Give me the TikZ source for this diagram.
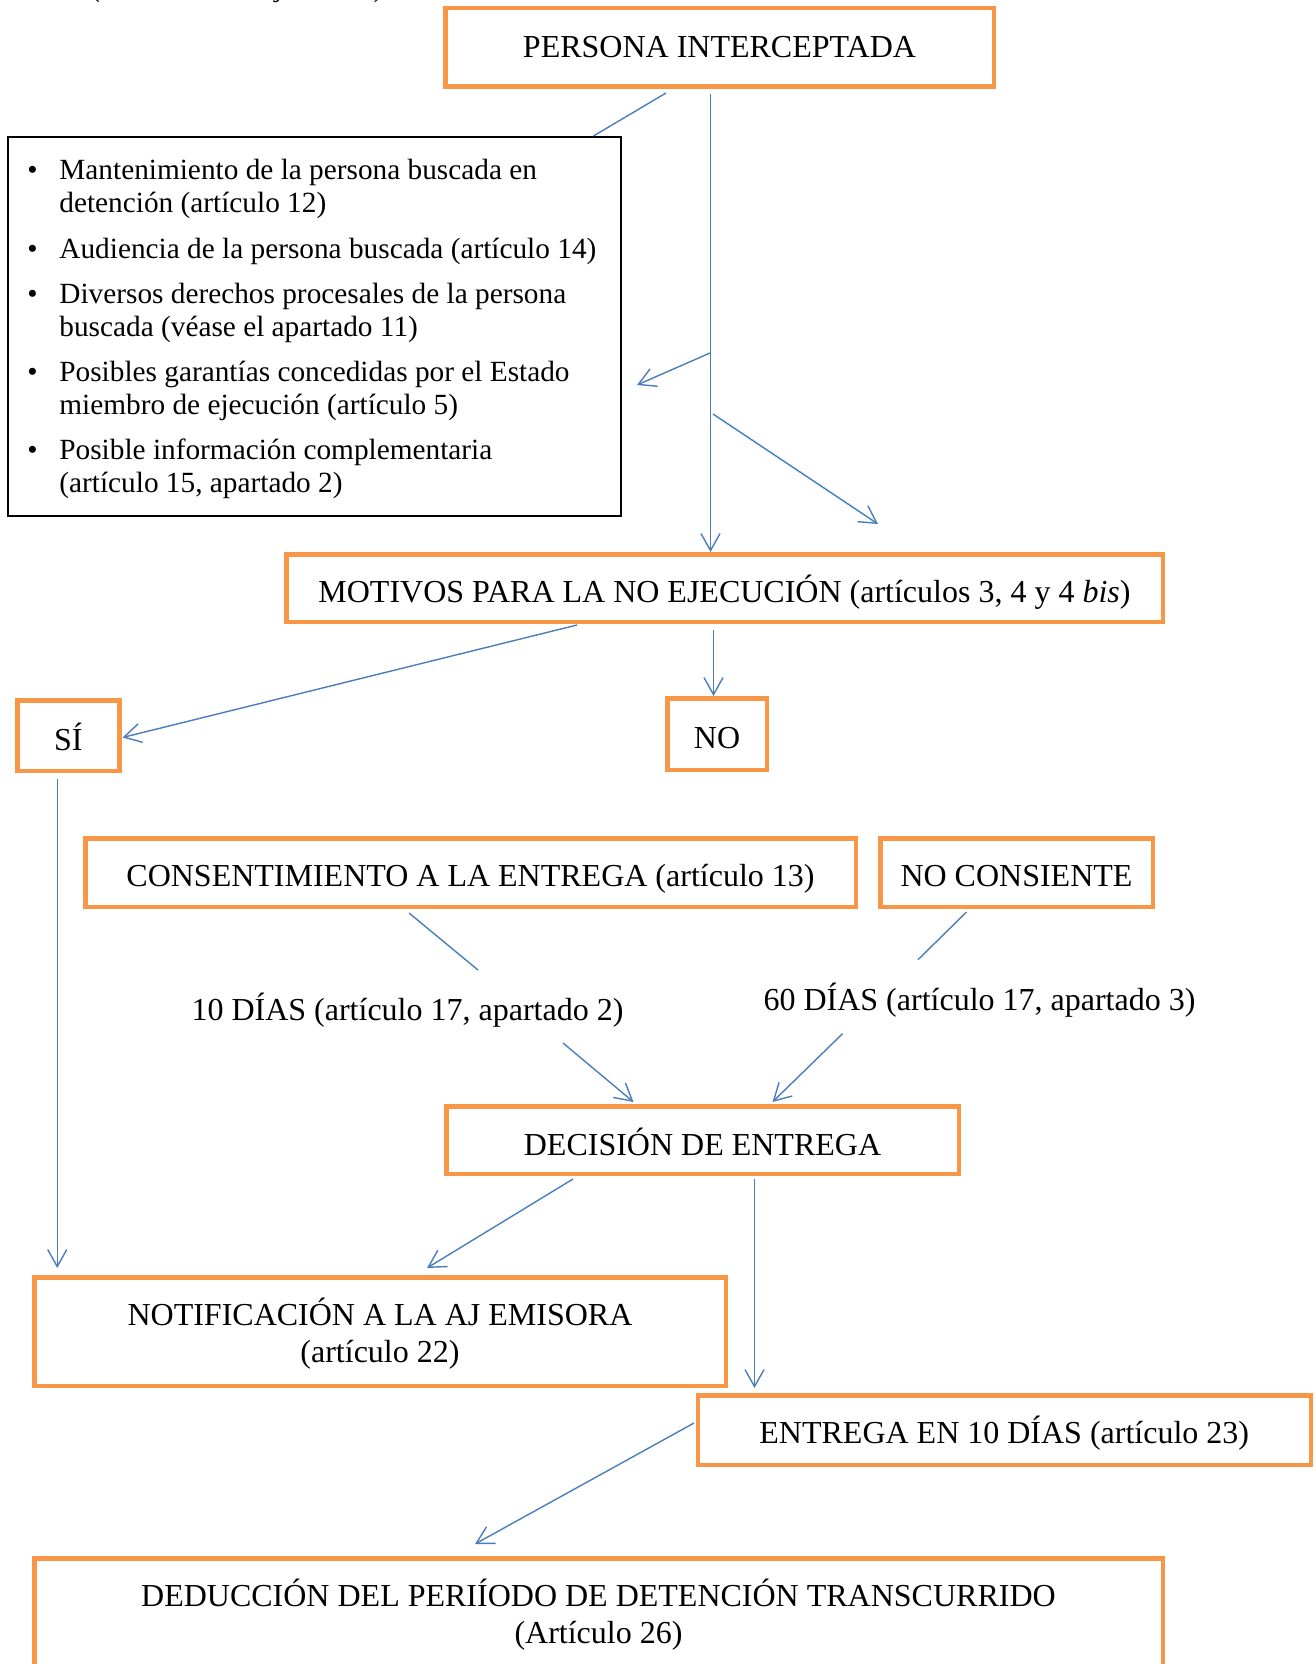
\documentclass[tikz,border=0pt]{standalone}
\usepackage{fontspec}
\setmainfont{Liberation Serif}
\usetikzlibrary{arrows.meta,calc}
\definecolor{boxorange}{HTML}{F79646}
\definecolor{lineblue}{HTML}{4A7EBB}
\newcommand\boxfont{\fontsize{16pt}{18.5pt}\selectfont}
\newcommand\listfont{\fontsize{14.65pt}{16.5pt}\selectfont}
\begin{document}
\begin{tikzpicture}[x=0.5pt,y=-0.5pt,
  obox/.style={draw=boxorange, line width=2.25pt, inner sep=0pt, font=\boxfont, text depth=0pt},
  tbox/.style={draw=boxorange, line width=2.25pt, inner sep=0pt, font=\boxfont, align=flush center, text height=0pt},
  lbox/.style={draw=black, line width=1pt, inner sep=0pt},
  item/.style={anchor=base west, inner sep=0pt, font=\listfont},
  plain/.style={anchor=base, inner sep=0pt, font=\boxfont},
  conn/.style={draw=lineblue, line width=0.7pt},
  arr/.style={conn, -{Straight Barb[length=8.5pt,width=9.5pt,line width=0.7pt]}}
]
\useasboundingbox (0,0) rectangle (1314,1664);

% cut-off text at the top
\node[item] (topfrag) at (90,-3) {(Autoridad de ejecución)};

% boxes
\node[obox, text height=9.8pt, minimum width=274.25pt, minimum height=39.25pt] (persona) at (719.5,47.5) {PERSONA INTERCEPTADA};
\node[lbox, minimum width=306.5pt, minimum height=189.5pt] (bul) at (314.5,326.5) {};
\node[obox, text height=14.7pt, minimum width=438.25pt, minimum height=33.75pt] (motivos) at (724.5,588) {MOTIVOS PARA LA NO EJECUCIÓN (artículos 3, 4 y 4 \textit{bis})};
\node[obox, text height=14.5pt, minimum width=51pt, minimum height=35.25pt] (si) at (68.25,735.5) {SÍ};
\node[obox, text height=14pt, minimum width=49.75pt, minimum height=35.75pt] (no) at (717,734) {NO};
\node[obox, text height=14.2pt, minimum width=385.25pt, minimum height=34.25pt] (consent) at (470.5,872.5) {CONSENTIMIENTO A LA ENTREGA (artículo 13)};
\node[obox, text height=14.2pt, minimum width=136.25pt, minimum height=34.25pt] (nocons) at (1016.5,872.5) {NO CONSIENTE};
\node[plain] (d10) at (407.5,1020) {10 DÍAS (artículo 17, apartado 2)};
\node[plain] (d60) at (979.5,1010.7) {60 DÍAS (artículo 17, apartado 3)};
\node[obox, text height=15pt, minimum width=256.25pt, minimum height=33.75pt] (decision) at (702.5,1140) {DECISIÓN DE ENTREGA};
\node[tbox, text width=330pt, text depth=5.8pt, minimum width=345.75pt, minimum height=54.25pt] (notif) at (380,1331.5) {NOTIFICACIÓN A LA AJ EMISORA\\(artículo 22)};
\node[obox, text height=13pt, minimum width=306.5pt, minimum height=34.75pt] (entrega) at (1004.25,1430) {ENTREGA EN 10 DÍAS (artículo 23)};
\node[tbox, text width=540pt, text depth=6pt, minimum width=564.25pt, minimum height=53.75pt] (deduc) at (598.5,1612) {DEDUCCIÓN DEL PERIÍODO DE DETENCIÓN TRANSCURRIDO\\(Artículo 26)};

% bullet list
\node[item] (b1) at (27,180) {\textbullet};
\node[item] (l1a) at (59,180) {Mantenimiento de la persona buscada en};
\node[item] (l1b) at (59,213) {detención (artículo 12)};
\node[item] (b2) at (27,258) {\textbullet};
\node[item] (l2a) at (59,258) {Audiencia de la persona buscada (artículo 14)};
\node[item] (b3) at (27,303) {\textbullet};
\node[item] (l3a) at (59,303) {Diversos derechos procesales de la persona};
\node[item] (l3b) at (59,336) {buscada (véase el apartado 11)};
\node[item] (b4) at (27,381) {\textbullet};
\node[item] (l4a) at (59,381) {Posibles garantías concedidas por el Estado};
\node[item] (l4b) at (59,414) {miembro de ejecución (artículo 5)};
\node[item] (b5) at (27,459) {\textbullet};
\node[item] (l5a) at (59,459) {Posible información complementaria};
\node[item] (l5b) at (59,492) {(artículo 15, apartado 2)};

% free ends
\coordinate (brL) at (710,353);
\coordinate (tipL) at (637,385);
\coordinate (brR) at (713,414);
\coordinate (tipR) at (878,524);

% connectors
\draw[conn] ($(persona.south)+(-53.5,4)$) -- ($(bul.north)+(279,0)$);
\draw[arr] ($(persona.south)+(-9,5)$) coordinate (vtop) -- (vtop |- motivos.north);
\draw[arr] (brL) -- (tipL);
\draw[arr] (brR) -- (tipR);
\draw[arr] ($(motivos.south)+(-147.5,1)$) -- ($(si.east)+(1,2)$);
\draw[arr] ($(motivos.south)+(-11,6)$) coordinate (ntop) -- (ntop |- no.north);
\draw[arr, shorten >=3.5pt] ($(si.south)+(-11,6)$) coordinate (stop) -- (stop |- notif.north);
\draw[conn] ($(consent.south)+(-61.5,4)$) -- ($(d10.base)+(70.5,-50)$);
\draw[conn] ($(nocons.south)+(-50,3)$) -- ($(d60.base)+(-61.5,-51)$);
\draw[arr] ($(d10.base)+(155.5,23)$) -- ($(decision.north)+(-69,-2)$);
\draw[arr] ($(d60.base)+(-137,23)$) -- ($(decision.north)+(70,-2)$);
\draw[arr] ($(decision.south)+(-129.5,3)$) -- ($(notif.north)+(47,-7)$);
\draw[arr, shorten >=2.5pt] ($(decision.south)+(52,3)$) coordinate (etop) -- (etop |- entrega.north);
\draw[arr] ($(entrega.west)+(-1.5,-7)$) -- ($(deduc.north)+(-123.5,-12)$);
\end{tikzpicture}
\end{document}
